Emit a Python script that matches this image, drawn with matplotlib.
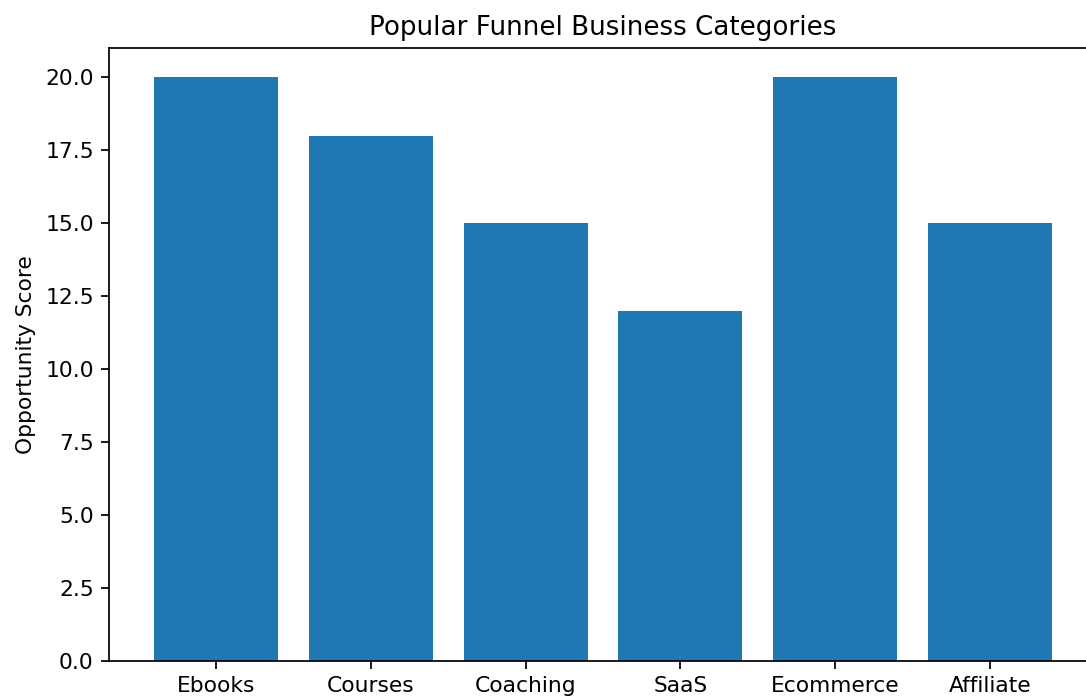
import matplotlib
matplotlib.use("Agg")
import matplotlib.pyplot as plt

categories = ["Ebooks", "Courses", "Coaching", "SaaS", "Ecommerce", "Affiliate"]
scores = [20, 18, 15, 12, 20, 15]

W, H, DPI = 1086, 698, 157
fig = plt.figure(figsize=(W / DPI, H / DPI), dpi=DPI)
# axes box in pixel coordinates (right edge runs slightly past the canvas)
left, right, bottom, top = 109, 1097, 661, 48
ax = fig.add_axes([left / W, (H - bottom) / H, (right - left) / W, (bottom - top) / H])

ax.bar(categories, scores, color="#1f77b4")
ax.set_title("Popular Funnel Business Categories")
ax.set_ylabel("Opportunity Score")

fig.savefig("out.png", dpi=DPI)
